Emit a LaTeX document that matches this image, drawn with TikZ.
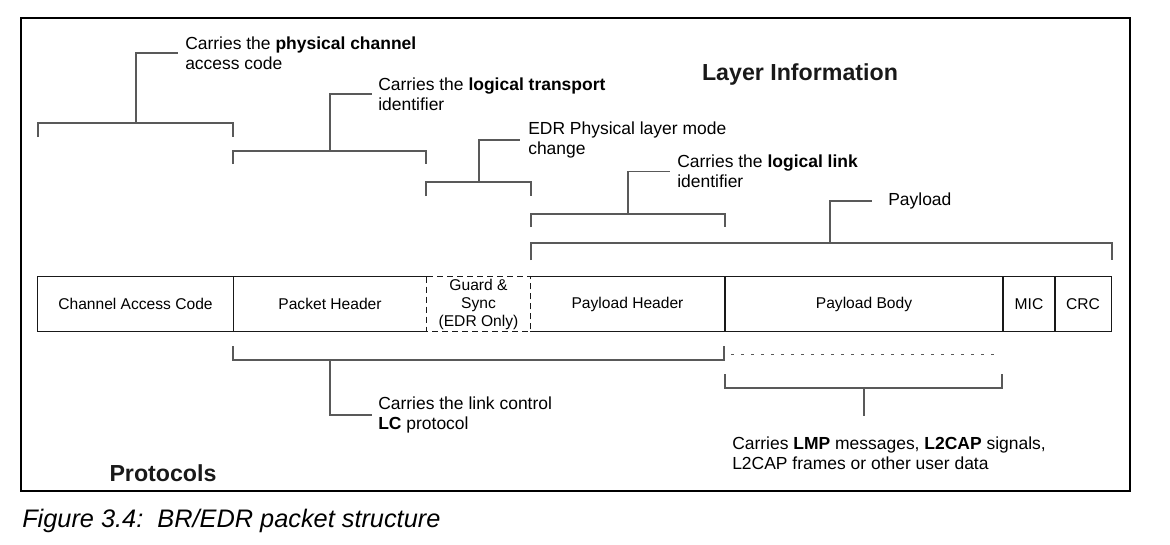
\documentclass[tikz,border=0pt]{standalone}
\usepackage{fontspec}
\setmainfont{Liberation Sans}
\newcommand{\boxfont}{\fontsize{11.7pt}{13.5pt}\selectfont}
\newcommand{\lblfont}{\fontsize{13.1pt}{15pt}\selectfont}
\newcommand{\headfont}{\fontsize{17.4pt}{20pt}\selectfont\bfseries}
\newcommand{\capfont}{\fontsize{19pt}{22pt}\selectfont\itshape}
\begin{document}
\begin{tikzpicture}[x=0.75pt,y=-0.75pt,
  field/.style={inner sep=0pt, minimum height=40.5pt, font=\boxfont, align=center, text=black},
  boxline/.style={line width=0.9pt, draw=black!90},
  dashline/.style={boxline, dash pattern=on 4.5pt off 3pt},
  brk/.style={line width=0.85pt, draw=black!65},
  dotline/.style={line width=0.7pt, draw=black!65, dash pattern=on 2pt off 5.5pt},
  lbl/.style={inner sep=0pt, anchor=west, align=left, font=\lblfont, text=black},
  heading/.style={font=\headfont, inner sep=0pt, text=black!90}]
\useasboundingbox (0,0) rectangle (1170,544);
\draw[line width=1.5pt] (21,18) rectangle (1130,491);

% packet fields
\node[field, minimum width=146.25pt] (cac) at (135.5,304) {Channel Access Code};
\node[field, minimum width=145.5pt]  (ph)  at (330,304)   {Packet Header};
\node[field, minimum width=77.25pt]  (gs)  at (478.5,304) {Guard \&\\Sync\\(EDR Only)};
\node[field, minimum width=146.25pt] (plh) at (627.5,304) {Payload Header};
\node[field, minimum width=208.5pt]  (plb) at (864,304)   {Payload Body};
\node[field, minimum width=39pt]     (mic) at (1029,304)  {MIC};
\node[field, minimum width=42pt]     (crc) at (1083,304)  {CRC};

\draw[boxline] (cac.north west) rectangle (cac.south east);
\draw[boxline] (ph.north west) -- (ph.north east) (ph.south west) -- (ph.south east);
\draw[dashline] (gs.north west) rectangle (gs.south east);
\draw[boxline] (plh.north west) -- (plh.north east) -- (plh.south east) -- (plh.south west);
\draw[boxline] (plb.north west) rectangle (plb.south east);
\draw[boxline] (mic.north west) rectangle (mic.south east);
\draw[boxline] (crc.north west) rectangle (crc.south east);

% labels
\node[lbl] (l1) at (185,53)   {Carries the \textbf{physical channel}\\access code};
\node[lbl] (l2) at (378,94)   {Carries the \textbf{logical transport}\\identifier};
\node[lbl] (l3) at (528,140)  {EDR Physical layer mode\\change};
\node[lbl] (l4) at (677,171.5){Carries the \textbf{logical link}\\identifier};
\node[lbl] (l5) at (888,201)  {Payload};
\node[lbl] (l6) at (378,415)  {Carries the link control\\\textbf{LC} protocol};
\node[lbl] (l7) at (732,453)  {Carries \textbf{LMP} messages, \textbf{L2CAP} signals,\\L2CAP frames or other user data};

\node[heading] (title) at (800,74) {Layer Information};
\node[heading] (proto) at (163,473) {Protocols};
\node[font=\capfont, anchor=west, inner sep=0pt, text=black] (cap) at (22,521) {Figure 3.4:\ \ BR/EDR packet structure};

% bracket coordinates
\coordinate (s1) at (136,123);
\coordinate (s2) at (330,151);
\coordinate (s3) at (479,182);
\coordinate (s4) at (628,214);
\coordinate (s5) at (830,243);
\coordinate (s6) at (330,360);
\coordinate (s7) at (864,388);
\coordinate (e7) at (864,416);

% top brackets
\draw[brk] (38,137) -- (38,123) -- (233,123) -- (233,137);
\draw[brk] (s1) |- ([xshift=-5pt]l1.west);
\draw[brk] (233,164) -- (233,151) -- (426,151) -- (426,164);
\draw[brk] (s2) |- ([xshift=-4.5pt]l2.west);
\draw[brk] (426,196) -- (426,182) -- (531,182) -- (531,196);
\draw[brk] (s3) |- ([xshift=-6pt]l3.west);
\draw[brk] (531,227) -- (531,214) -- (725,214) -- (725,227);
\draw[brk] (s4) |- ([xshift=-5pt]l4.west);
\draw[brk] (531,260) -- (531,243) -- (1112,243) -- (1112,260);
\draw[brk] (s5) |- ([xshift=-12pt]l5.west);

% bottom brackets
\draw[brk] (233,346) -- (233,360) -- (724,360) -- (724,346);
\draw[brk] (s6) |- ([xshift=-4.5pt]l6.west);
\draw[dotline] (731,354) -- (994,354);
\draw[brk] (725,374) -- (725,388) -- (1002,388) -- (1002,374);
\draw[brk] (s7) -- (e7);
\end{tikzpicture}
\end{document}
